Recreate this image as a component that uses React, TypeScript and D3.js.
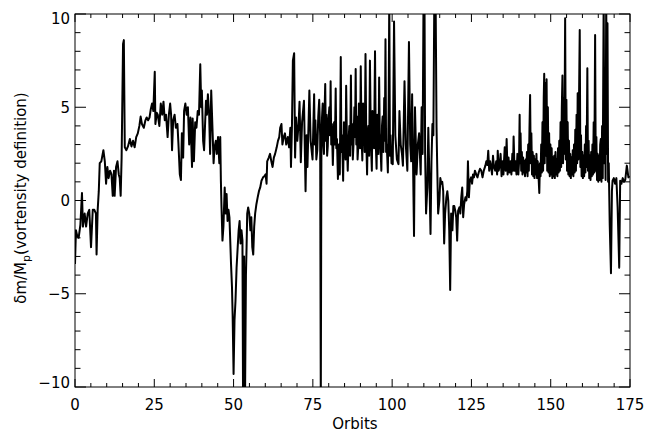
import React from 'react'
import * as d3 from 'd3'

// [orbit, dm/Mp], one array per 25 orbits
const seg0to25: [number, number][] = [
  [0,-3.4],[0.3,-1.6],[0.7,-1.9],[1.15,-2.0],[1.7,-1.3],[2.2,0.4],[2.5,-1.4],[3.05,-0.7],[3.5,-1.4],[4.0,-0.7],
  [4.5,-0.5],[5.05,-2.5],[5.6,-0.5],[6.1,-0.5],[6.6,-0.7],[6.8,-2.9],[7.15,-0.5],[7.5,0.5],[7.8,2.0],[8.3,2.1],
  [8.95,2.7],[9.4,2.1],[9.8,0.9],[10.2,1.8],[10.6,1.2],[11.05,1.6],[11.5,1.4],[11.9,0.25],[12.3,1.6],[12.5,0.25],
  [12.95,1.8],[13.4,2.1],[13.8,1.4],[14.1,1.2],[14.4,0.25],[14.7,2.3],[15.15,8.4],[15.4,8.6],[15.7,2.85],[16.2,2.7],
  [16.7,2.9],[17.3,3.3],[17.8,2.9],[18.3,3.2],[18.8,2.85],[19.3,3.4],[19.8,3.6],[20.3,4.0],[20.7,4.5],[21.1,4.1],
  [21.7,3.9],[22.2,4.3],[22.6,4.45],[23.05,4.3],[23.5,4.45],[23.9,4.9],[24.3,5.2],[24.7,4.8],
]
const seg25to50: [number, number][] = [
  [25.15,6.9],[25.35,4.1],[25.8,4.7],[26.1,4.6],[26.6,4.0],[27.05,5.2],[27.5,4.6],[27.9,5.3],[28.3,4.3],[28.7,4.6],
  [29.2,3.4],[29.6,4.6],[30.0,5.2],[30.3,4.6],[30.6,2.7],[30.95,4.3],[31.4,4.6],[31.8,3.9],[32.3,4.1],[32.6,3.1],
  [33.05,1.4],[33.4,1.1],[33.7,3.6],[34.1,2.3],[34.4,4.8],[34.8,5.2],[35.2,4.6],[35.6,5.0],[36.0,3.0],[36.4,4.45],
  [36.9,1.8],[37.1,4.4],[37.5,2.1],[37.9,4.2],[38.3,3.9],[38.7,4.8],[39.1,4.6],[39.5,7.3],[39.8,5.0],[40.0,5.9],
  [40.4,3.2],[40.7,2.7],[41.3,5.35],[41.6,4.6],[41.9,5.7],[42.3,4.6],[42.6,2.5],[42.95,5.9],[43.4,3.6],[43.7,2.0],
  [44.0,2.85],[44.4,3.2],[44.7,2.5],[45.1,3.4],[45.5,2.0],[45.8,3.4],[46.0,1.06],[46.2,-0.37],[46.5,-2.15],[46.8,-1.4],
  [47.2,0.7],[47.5,-0.7],[47.8,0.35],[48.1,-1.1],[48.4,-0.5],[48.7,-0.9],[49.2,-3.4],[49.5,-4.65],[49.7,-6.1],[50.0,-9.3],
]
const seg50to75: [number, number][] = [
  [50.3,-6.4],[50.6,-5.4],[50.95,-3.6],[51.3,-2.5],[51.6,-1.6],[51.9,-1.1],[52.2,-2.3],[52.5,-1.6],[52.8,-2.15],[53.0,-11],
  [53.3,-3.0],[53.6,-11],[53.9,-4.0],[54.1,-2.5],[54.3,-0.7],[54.6,-0.37],[54.95,-0.7],[55.3,-1.6],[55.6,-0.9],[55.9,-2.5],
  [56.2,-2.9],[56.5,-1.4],[56.8,-0.7],[57.2,-0.2],[57.6,0.17],[58.0,0.5],[58.4,0.7],[58.8,1.06],[59.3,1.24],[59.7,1.3],
  [60.1,1.4],[60.4,0.9],[60.6,2.1],[61.1,2.3],[61.5,2.5],[61.9,2.1],[62.3,1.8],[62.7,2.3],[63.1,2.5],[63.6,2.85],
  [64.0,3.2],[64.4,3.4],[64.7,3.9],[65.1,4.1],[65.4,3.0],[65.8,3.4],[66.2,3.6],[66.6,3.0],[67.1,3.4],[67.5,2.85],
  [67.9,3.9],[68.1,1.8],[68.4,3.9],[68.7,7.5],[69.1,7.9],[69.4,2.3],[69.7,4.45],[70.1,3.2],[70.5,4.1],[70.8,5.3],
  [71.2,2.05],[71.6,4.2],[72.2,5.35],[72.7,0.5],[73.0,3.5],[73.3,1.8],[73.9,5.9],[74.3,3.2],[74.9,2.2],
]
const seg75to100: [number, number][] = [
  [75.4,5.7],[75.6,3.0],[75.8,4.3],[76.1,2.2],[76.4,2.7],[76.7,4.5],[77.0,5.4],[77.3,3.5],[77.5,-11],[77.7,3.0],
  [77.9,4.5],[78.1,5.2],[78.3,3.0],[78.5,2.5],[78.7,4.8],[78.9,6.25],[79.1,3.2],[79.3,4.6],[79.5,2.4],[79.7,2.9],
  [79.95,4.4],[80.2,5.0],[80.4,3.5],[80.6,6.4],[80.8,3.0],[81.0,4.1],[81.3,1.9],[81.5,3.2],[81.7,4.2],[81.95,3.0],
  [82.2,6.0],[82.4,2.8],[82.6,3.3],[82.9,1.15],[83.2,3.0],[83.35,2.0],[83.5,1.4],[83.65,4.5],[83.8,7.7],[84.0,2.6],
  [84.2,3.5],[84.55,1.06],[84.8,4.2],[85.0,3.6],[85.3,2.2],[85.5,6.15],[85.75,3.0],[86.0,1.6],[86.25,3.2],[86.5,4.0],
  [86.75,2.4],[87.0,6.7],[87.2,3.0],[87.4,4.1],[87.6,2.2],[87.8,2.95],[88.1,5.0],[88.3,3.4],[88.5,7.05],[88.7,3.0],
  [88.9,4.5],[89.1,2.2],[89.3,2.85],[89.5,5.2],[89.7,4.2],[89.9,2.8],[90.1,7.2],[90.35,3.5],[90.6,2.15],[90.85,5.2],
  [91.1,4.5],[91.35,2.6],[91.6,7.85],[91.85,3.2],[92.1,1.4],[92.3,3.6],[92.5,4.0],[92.75,2.4],[93.0,7.5],[93.3,3.2],
  [93.6,1.6],[93.8,4.8],[94.0,4.2],[94.3,2.8],[94.6,8.0],[94.85,3.0],[95.1,1.7],[95.3,4.6],[95.5,4.0],[95.7,2.5],
  [95.9,6.6],[96.1,3.6],[96.3,3.0],[96.6,1.6],[96.8,4.0],[97.0,4.5],[97.25,2.6],[97.5,5.5],[97.7,3.2],[97.9,8.65],
  [98.1,2.6],[98.3,3.0],[98.65,1.5],[98.9,5.0],[99.1,11],[99.3,2.4],[99.5,3.5],[99.8,2.0],
]
const seg100to125: [number, number][] = [
  [100.2,1.95],[100.6,9.6],[101.0,3.5],[101.5,2.2],[102.0,1.95],[102.3,4.8],[102.7,3.0],[103.1,2.5],[103.4,1.87],[103.9,6.4],
  [104.3,3.0],[104.8,1.6],[105.3,8.5],[105.7,3.0],[106.0,2.1],[106.3,5.7],[106.9,-1.9],[107.2,5.0],[107.7,1.4],[108.1,3.0],
  [108.5,3.6],[109.0,1.4],[109.3,5.0],[109.6,2.5],[109.9,11],[110.2,11],[110.4,2.5],[110.7,-0.7],[111.1,0.7],[111.4,3.9],
  [111.7,1.6],[112.1,-1.8],[112.4,2.1],[112.7,4.1],[113.0,3.5],[113.3,11],[113.7,11],[114.0,3.9],[114.2,1.96],[114.5,-0.7],
  [114.9,0.0],[115.2,1.2],[115.5,0.9],[115.8,1.0],[116.1,0.5],[116.4,-2.3],[116.7,-0.7],[117.1,0.17],[117.4,0.5],[117.7,0.0],
  [118.0,-1.6],[118.3,-4.8],[118.6,-0.7],[119.0,-1.6],[119.3,-0.3],[119.6,-0.3],[119.9,-0.55],[120.2,-0.9],[120.5,-2.15],[120.8,-0.55],
  [121.2,-0.37],[121.5,-0.7],[121.8,0.17],[122.1,0.7],[122.4,-0.9],[122.7,-0.2],[123.1,0.17],[123.4,0.0],[123.7,0.5],[123.9,2.1],
  [124.2,0.17],[124.5,1.06],[124.9,1.24],
]
const seg125to150: [number, number][] = [
  [125.2,0.9],[125.5,1.4],[125.8,1.24],[126.1,1.6],[126.5,1.4],[126.9,1.24],[127.3,1.5],[127.7,1.7],[128.1,1.6],[128.5,1.24],
  [128.9,1.6],[129.4,1.87],[129.7,2.1],[130.0,1.9],[130.3,2.67],[130.6,1.6],[130.9,2.1],[131.2,1.8],[131.5,1.4],[131.8,2.4],
  [132.1,1.8],[132.5,1.6],[132.8,2.1],[133.1,1.4],[133.3,2.67],[133.6,1.6],[133.9,1.87],[134.2,2.5],[134.5,1.3],[134.8,2.1],
  [135.1,1.4],[135.3,2.2],[135.5,2.85],[135.8,1.6],[136.1,3.3],[136.4,1.4],[136.7,2.3],[137.0,1.5],[137.3,2.1],[137.6,1.4],
  [137.9,2.5],[138.1,1.6],[138.3,3.43],[138.6,1.6],[138.9,2.1],[139.2,1.4],[139.5,2.5],[139.8,1.4],[140.0,2.0],[140.1,3.3],
  [140.2,4.6],[140.35,2.0],[140.5,3.6],[140.7,1.6],[140.9,2.6],[141.1,1.4],[141.3,2.3],[141.5,1.5],[141.7,2.1],[141.9,1.3],
  [142.1,2.2],[142.3,1.5],[142.5,2.6],[142.7,1.3],[142.9,3.0],[143.1,1.6],[143.3,3.8],[143.5,5.66],[143.7,2.0],[143.9,3.6],
  [144.1,1.4],[144.3,2.6],[144.5,1.3],[144.7,2.4],[144.9,1.2],[145.1,2.2],[145.3,1.4],[145.5,2.5],[145.7,1.2],[145.9,2.1],
  [146.1,1.5],[146.4,0.4],[146.6,2.0],[146.8,1.3],[147.0,3.0],[147.2,1.5],[147.4,4.2],[147.6,1.6],[147.8,5.5],[147.95,6.8],
  [148.1,2.0],[148.3,6.3],[148.5,2.4],[148.7,6.5],[148.9,1.6],[149.1,5.0],[149.3,1.5],[149.5,3.6],[149.7,1.3],[149.9,3.0],
]
const seg150to175: [number, number][] = [
  [150.1,1.4],[150.3,2.8],[150.5,1.2],[150.7,2.3],[150.9,1.3],[151.1,2.4],[151.3,1.2],[151.5,2.6],[151.7,1.4],[151.9,2.2],
  [152.1,1.3],[152.3,2.8],[152.5,1.5],[152.7,3.2],[152.9,1.6],[153.1,4.2],[153.3,1.8],[153.5,5.0],[153.7,6.7],[153.9,2.0],
  [154.1,5.5],[154.3,2.5],[154.55,9.77],[154.75,2.2],[154.95,5.4],[155.15,1.6],[155.35,4.2],[155.55,1.4],[155.75,3.2],[155.95,1.3],
  [156.15,2.5],[156.35,1.2],[156.55,2.3],[156.75,1.4],[156.95,2.7],[157.15,1.3],[157.35,3.0],[157.55,1.5],[157.75,3.8],[157.95,1.6],
  [158.15,4.6],[158.35,2.0],[158.5,5.75],[158.7,2.2],[158.9,5.0],[159.15,9.14],[159.35,1.8],[159.55,3.5],[159.75,1.3],[159.95,2.6],
  [160.15,1.2],[160.35,2.4],[160.55,1.3],[160.75,3.0],[160.95,1.5],[161.15,4.0],[161.3,1.8],[161.55,7.09],[161.75,1.6],[161.95,3.2],
  [162.15,1.2],[162.35,2.4],[162.55,1.1],[162.75,2.6],[162.95,1.3],[163.15,3.0],[163.35,1.4],[163.55,4.2],[163.75,1.5],[164.0,8.87],
  [164.2,1.6],[164.4,3.4],[164.6,1.1],[164.8,2.5],[165.0,1.0],[165.2,2.4],[165.4,1.1],[165.6,3.0],[165.8,3.3],[166.0,1.0],
  [166.2,4.0],[166.4,1.2],[166.7,11],[166.9,2.0],[167.1,6.0],[167.3,1.1],[167.5,11],[167.7,2.5],[167.9,9.5],[168.1,1.0],
  [168.3,2.0],[168.6,-1.25],[169.0,-3.9],[169.3,0.5],[169.5,1.06],[169.9,1.2],[170.3,0.9],[170.7,1.2],[171.1,-0.37],[171.6,-3.6],
  [171.9,1.06],[172.3,0.9],[172.7,1.2],[173.1,1.0],[173.5,1.1],[174.0,1.87],[174.5,1.24],[174.9,1.3],
]

const xTickValues = [0, 25, 50, 75, 100, 125, 150, 175]
const yTickValues = [-10, -5, 0, 5, 10]
const xTitle = 'Orbits'

const width = 648
const height = 432
const margin = { left: 75, right: 18, top: 14, bottom: 45 }
const font = '"DejaVu Sans", sans-serif'

export default function App() {
  const innerWidth = width - margin.left - margin.right
  const innerHeight = height - margin.top - margin.bottom

  const data = [...seg0to25, ...seg25to50, ...seg50to75, ...seg75to100, ...seg100to125, ...seg125to150, ...seg150to175]

  const xScale = d3.scaleLinear().domain([0, 175]).range([0, innerWidth])
  const yScale = d3.scaleLinear().domain([-10, 10]).range([innerHeight, 0])

  const line = d3.line<[number, number]>()
    .x(d => xScale(d[0]))
    .y(d => yScale(d[1]))

  const xMinor = d3.range(0, 176, 5).filter(v => v % 25 !== 0)
  const yMinor = d3.range(-10, 11, 1).filter(v => v % 5 !== 0)
  const xMajorLen = 8, xMinorLen = 4
  const yMajorLen = 11, yMinorLen = 5.5

  const labelShift = (v: number) => (v === 10 ? 5 : v === -10 ? -4 : 0)

  return (
    <div style={{ position: 'fixed', left: 0, top: 0, background: 'white' }}>
      <svg width={width} height={height} style={{ display: 'block' }}>
        <defs>
          <clipPath id="plotClip">
            <rect x={0} y={0} width={innerWidth} height={innerHeight} />
          </clipPath>
        </defs>
        <g transform={`translate(${margin.left},${margin.top})`}>
          <path
            d={line(data) || ''}
            fill="none"
            stroke="black"
            strokeWidth={2}
            strokeLinejoin="round"
            clipPath="url(#plotClip)"
          />
          <rect x={0} y={0} width={innerWidth} height={innerHeight} fill="none" stroke="black" strokeWidth={1} />
          {
            xTickValues.map((v, i) => (
              <g key={'xm' + i} transform={`translate(${xScale(v)},0)`}>
                <line y1={innerHeight} y2={innerHeight - xMajorLen} stroke="black" />
                <line y1={0} y2={xMajorLen} stroke="black" />
                <text
                  y={innerHeight + 23}
                  textAnchor="middle"
                  fontFamily={font}
                  fontSize={15}
                  fill="black"
                >{v}</text>
              </g>
            ))
          }
          {
            xMinor.map((v, i) => (
              <g key={'xn' + i} transform={`translate(${xScale(v)},0)`}>
                <line y1={innerHeight} y2={innerHeight - xMinorLen} stroke="black" />
                <line y1={0} y2={xMinorLen} stroke="black" />
              </g>
            ))
          }
          {
            yTickValues.map((v, i) => (
              <g key={'ym' + i} transform={`translate(0,${yScale(v)})`}>
                <line x1={0} x2={yMajorLen} stroke="black" />
                <line x1={innerWidth} x2={innerWidth - yMajorLen} stroke="black" />
                <text
                  x={-5}
                  y={labelShift(v)}
                  dy=".36em"
                  textAnchor="end"
                  fontFamily={font}
                  fontSize={15}
                  fill="black"
                >{v < 0 ? '\u2212' + Math.abs(v) : v}</text>
              </g>
            ))
          }
          {
            yMinor.map((v, i) => (
              <g key={'yn' + i} transform={`translate(0,${yScale(v)})`}>
                <line x1={0} x2={yMinorLen} stroke="black" />
                <line x1={innerWidth} x2={innerWidth - yMinorLen} stroke="black" />
              </g>
            ))
          }
          <text
            x={355 - margin.left}
            y={innerHeight + 42}
            textAnchor="middle"
            fontFamily={font}
            fontSize={15}
            fill="black"
          >{xTitle}</text>
          <text
            transform={`translate(${26 - margin.left},${198 - margin.top}) rotate(-90)`}
            textAnchor="middle"
            fontFamily={font}
            fontSize={15}
            fill="black"
          >δm/M<tspan dy="4" fontSize={11}>p</tspan><tspan dy="-4">(vortensity definition)</tspan></text>
        </g>
      </svg>
    </div>
  )
}
